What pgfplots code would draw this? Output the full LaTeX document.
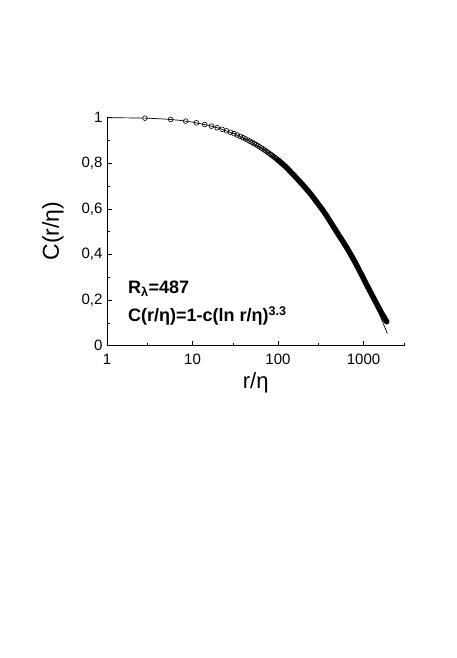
\documentclass[border=0pt]{standalone}
\usepackage{fontspec}
\setmainfont{Liberation Sans}
\usepackage{pgfplots}
\pgfplotsset{compat=1.18}

\begin{document}
\begin{tikzpicture}
\fill[white] (0,0) rectangle (457pt,658pt);
\useasboundingbox (0,0) rectangle (457pt,658pt);
\begin{axis}[
    at={(107pt,312.3pt)}, anchor=south west,
    scale only axis, width=297.3pt, height=229pt,
    xmode=log, xmin=1, xmax=3000,
    ymin=0, ymax=1.005,
    axis lines*=left,
    axis line style={line width=0.8pt},
    tick align=inside,
    major tick length=5pt, minor tick length=3pt,
    every tick/.style={black, line width=0.8pt},
    xtick={1,10,100,1000}, xticklabels={1,10,100,1000},
    minor xtick={3,30,300,3000},
    ytick={0,0.2,0.4,0.6,0.8,1},
    yticklabels={0,{0,2},{0,4},{0,6},{0,8},1},
    minor ytick={0.1,0.3,0.5,0.7,0.9},
    tick label style={font=\fontsize{15}{17}\selectfont},
    xticklabel style={yshift=-5pt},
    yticklabel style={xshift=-1pt},
    xlabel={r/η}, ylabel={C(r/η)},
    xlabel style={font=\fontsize{22}{25}\selectfont, at={(axis description cs:0.5,-0.189)}, anchor=base},
    ylabel style={font=\fontsize{23}{26}\selectfont, at={(axis description cs:-0.182,0.5)}, anchor=center},
    clip=false,
]
% fit C = 1 - c (ln r)^3.3
\addplot[black, line width=0.7pt] coordinates {
 (1,1) (1.5,1) (2,0.9996) (3,0.9984) (5,0.9942) (7,0.9892) (10,0.9812)
 (15,0.9679) (20,0.9552) (30,0.9318) (50,0.8918) (70,0.8579) (100,0.8146)
 (150,0.7552) (200,0.7056) (300,0.6244) (400,0.5585) (500,0.5016)
 (700,0.4072) (1000,0.2937) (1300,0.2008) (1600,0.122) (1900,0.053)
};
% dense data band
\addplot[black, line width=5.5pt, line cap=round, line join=round, smooth] coordinates {
 (100,0.8145) (120,0.789) (150,0.752) (200,0.701) (250,0.658) (300,0.618)
 (350,0.584) (400,0.550) (500,0.492) (600,0.446) (700,0.404) (800,0.365)
 (1000,0.295) (1100,0.264) (1300,0.212) (1450,0.178) (1600,0.148)
 (1750,0.123) (1870,0.105)
};
% data points
\addplot[only marks, mark=o, mark size=2.4pt, mark options={line width=0.6pt, fill=white, draw=black}] coordinates {
 (2.78,0.9987) (5.56,0.9929) (8.34,0.9856) (11.12,0.9782) (13.9,0.9708)
 (16.68,0.9635) (19.46,0.9565) (22.24,0.9497) (25.02,0.9431) (27.8,0.9367)
 (30.58,0.9306) (33.36,0.9246) (36.14,0.9187) (38.92,0.9131) (41.7,0.9075)
 (44.48,0.9021) (47.26,0.8969) (50.04,0.8918) (52.82,0.8867) (55.6,0.8818)
 (58.38,0.8770) (61.16,0.8723) (63.94,0.8677) (66.72,0.8632) (69.5,0.8588)
 (72.28,0.8544) (75.06,0.8501) (77.84,0.8459) (80.62,0.8418) (83.4,0.8377)
 (86.18,0.8337) (88.96,0.8297) (91.74,0.8258) (94.52,0.8220) (97.3,0.8182)
 (100.08,0.8145) (102.86,0.8109) (105.64,0.8073) (108.42,0.8037) (111.2,0.8002)
};
\node[anchor=base west, inner sep=0pt, font=\fontsize{18}{20}\selectfont\bfseries]
  at (axis cs:1.76,0.231) {R\textsubscript{λ}=487};
\node[anchor=base west, inner sep=0pt, font=\fontsize{18}{20}\selectfont\bfseries]
  at (axis cs:1.76,0.105) {C(r/η)=1-c(ln r/η)\textsuperscript{3.3}};
\end{axis}
\end{tikzpicture}
\end{document}
